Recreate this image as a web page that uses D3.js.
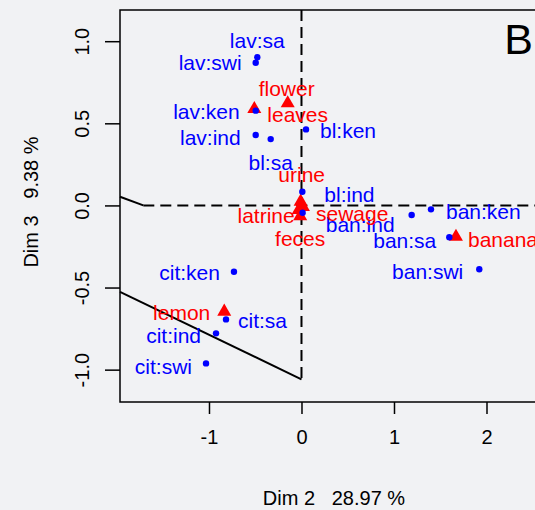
<!DOCTYPE html>
<html>
<head>
<meta charset="utf-8">
<script src="https://cdn.jsdelivr.net/npm/d3@7"></script>
<style>
  html, body { margin: 0; padding: 0; background: #f1f2f4; }
  svg { display: block; }
  text { font-family: "Liberation Sans", Arial, sans-serif; }
</style>
</head>
<body>
<svg id="chart" width="535" height="510"></svg>
<script>
// ---------- data ----------
const sampleNames = ["lav:sa","lav:swi","lav:ken","lav:ind","bl:sa","bl:ken","bl:ind","bl:swi",
                     "ban:ind","ban:ken","ban:sa","ban:swi","cit:ken","cit:sa","cit:ind","cit:swi"];
const sampleDim2  = [-0.478,-0.495,-0.495,-0.495,-0.333, 0.049, 0.009, 0.012,
                      1.191, 1.400, 1.598, 1.922,-0.730,-0.816,-0.924,-1.032];
const sampleDim3  = [ 0.902, 0.869, 0.577, 0.429, 0.404, 0.463, 0.083,-0.045,
                     -0.058,-0.024,-0.194,-0.389,-0.404,-0.694,-0.779,-0.962];
const sampleShown = [true,true,true,true,true,true,true,false,
                     true,true,true,true,true,true,true,true];

const sourceNames = ["flower","leaves","urine","latrine","sewage","feces","banana","lemon"];
const sourceDim2  = [-0.149,-0.510,-0.009,-0.030, 0.016,-0.014, 1.670,-0.835];
const sourceDim3  = [ 0.622, 0.587, 0.023,-0.028,-0.010,-0.065,-0.191,-0.647];

const xTicks = [-1, 0, 1, 2];
const yTicks = [-1.0, -0.5, 0.0, 0.5, 1.0];
const yTickLabels = ["-1.0", "-0.5", "0.0", "0.5", "1.0"];
const xAxisTitle = "Dim 2   28.97 %";
const yAxisTitle = "Dim 3   9.38 %";
const panelLetter = "B";

// boundary segments (data coords)
const boundarySolid = [
  [[-1.962, 0.053], [-1.71, 0.0]],
  [[-1.962, -0.527], [0.0, -1.059]]
];
const boundaryDashed = [
  [[-1.71, 0.0], [2.6, 0.0]],
  [[0.0, 1.19], [0.0, -1.059]]
];

// label placement (pixel offsets from marker, anchor)
const sampleLabelPos = [
  [0,-17,"middle"],[-14,0,"end"],[-16,1,"end"],[-15,3,"end"],[0,23,"middle"],[14,1,"start"],[22,3,"start"],[0,0,"start"],
  [-17,10,"end"],[15,2,"start"],[-13,3,"end"],[-16,2,"end"],[-14,1,"end"],[12,1,"start"],[-15,2,"end"],[-14,3,"end"]
];
const sourceLabelPos = [
  [-1,-15,"middle"],[13,5,"start"],[1,-27,"middle"],[-4,5,"end"],[13,6,"start"],[0,22,"middle"],[12,3,"start"],[-14,1,"end"]
];

// ---------- layout ----------
const plotLeft = 120, plotRight = 542, plotTop = 10, plotBottom = 402;
const x = d3.scaleLinear().domain([-1.962, 2.6]).range([plotLeft, plotRight]);
const y = d3.scaleLinear().domain([-1.197, 1.19]).range([plotBottom, plotTop]);

const svg = d3.select("#chart");
const fontSize = 20;
const labelSize = 21;

// background
svg.append("rect").attr("width", 535).attr("height", 510).attr("fill", "#f1f2f4");

// axes
const xAxis = d3.axisBottom(x).tickValues(xTicks).tickSize(12).tickPadding(16).tickFormat(d3.format("d"));
const gx = svg.append("g").attr("transform", `translate(0,${plotBottom})`).call(xAxis);
gx.select(".domain").remove();
gx.selectAll(".tick line").attr("stroke", "#000").attr("stroke-width", 1.5);
gx.selectAll(".tick text").attr("font-size", fontSize).attr("fill", "#000")
  .attr("font-family", "Liberation Sans, Arial, sans-serif")
  .text(d => d < 0 ? "-" + Math.abs(d) : d);

const yAxis = d3.axisLeft(y).tickValues(yTicks).tickSize(15).tickFormat((d, i) => yTickLabels[i]);
const gy = svg.append("g").attr("transform", `translate(${plotLeft},0)`).call(yAxis);
gy.select(".domain").remove();
gy.selectAll(".tick line").attr("stroke", "#000").attr("stroke-width", 1.5);
gy.selectAll(".tick text")
  .attr("font-size", fontSize).attr("fill", "#000")
  .attr("font-family", "Liberation Sans, Arial, sans-serif")
  .attr("x", null).attr("dy", null)
  .attr("text-anchor", "middle")
  .attr("dominant-baseline", "central")
  .attr("transform", "translate(-38,0) rotate(-90)");

// plot box
svg.append("rect")
  .attr("x", plotLeft).attr("y", plotTop)
  .attr("width", plotRight - plotLeft).attr("height", plotBottom - plotTop)
  .attr("fill", "none").attr("stroke", "#000").attr("stroke-width", 1.5);

// boundary lines
const line = d3.line().x(d => x(d[0])).y(d => y(d[1]));
svg.append("g").selectAll("path").data(boundaryDashed).join("path")
  .attr("d", line).attr("fill", "none").attr("stroke", "#000")
  .attr("stroke-width", 2).attr("stroke-dasharray", "11,6");
svg.append("g").selectAll("path").data(boundarySolid).join("path")
  .attr("d", line).attr("fill", "none").attr("stroke", "#000")
  .attr("stroke-width", 2);

const samples = sampleNames.map((n, i) => ({name: n, x: sampleDim2[i], y: sampleDim3[i], shown: sampleShown[i], pos: sampleLabelPos[i]}));
const sources = sourceNames.map((n, i) => ({name: n, x: sourceDim2[i], y: sourceDim3[i], pos: sourceLabelPos[i]}));

// sources (red triangles) drawn first
const tri = d3.symbol().type(d3.symbolTriangle).size(85);
svg.append("g").selectAll("path").data(sources).join("path")
  .attr("d", tri)
  .attr("transform", d => `translate(${x(d.x)},${y(d.y)})`)
  .attr("fill", "#ff0000");

// samples (blue points) on top
svg.append("g").selectAll("circle").data(samples).join("circle")
  .attr("cx", d => x(d.x)).attr("cy", d => y(d.y)).attr("r", 3.2)
  .attr("fill", "#0000ff");

// labels
svg.append("g").selectAll("text").data(samples.filter(d => d.shown)).join("text")
  .attr("x", d => x(d.x) + d.pos[0]).attr("y", d => y(d.y) + d.pos[1])
  .attr("text-anchor", d => d.pos[2]).attr("dominant-baseline", "central")
  .attr("font-size", labelSize).attr("fill", "#0000ff")
  .text(d => d.name);

svg.append("g").selectAll("text").data(sources).join("text")
  .attr("x", d => x(d.x) + d.pos[0]).attr("y", d => y(d.y) + d.pos[1])
  .attr("text-anchor", d => d.pos[2]).attr("dominant-baseline", "central")
  .attr("font-size", labelSize).attr("fill", "#ff0000")
  .text(d => d.name);

// axis titles
svg.append("text").attr("x", 334).attr("y", 498)
  .attr("text-anchor", "middle").attr("dominant-baseline", "central")
  .attr("font-size", fontSize).attr("fill", "#000")
  .style("white-space", "pre").text(xAxisTitle);
svg.append("text").attr("transform", "translate(31,202) rotate(-90)")
  .attr("text-anchor", "middle").attr("dominant-baseline", "central")
  .attr("font-size", fontSize).attr("fill", "#000")
  .style("white-space", "pre").text(yAxisTitle);

// panel letter
svg.append("text").attr("x", 533).attr("y", 54)
  .attr("text-anchor", "end").attr("font-size", 43).attr("fill", "#000")
  .text(panelLetter);
</script>
</body>
</html>
